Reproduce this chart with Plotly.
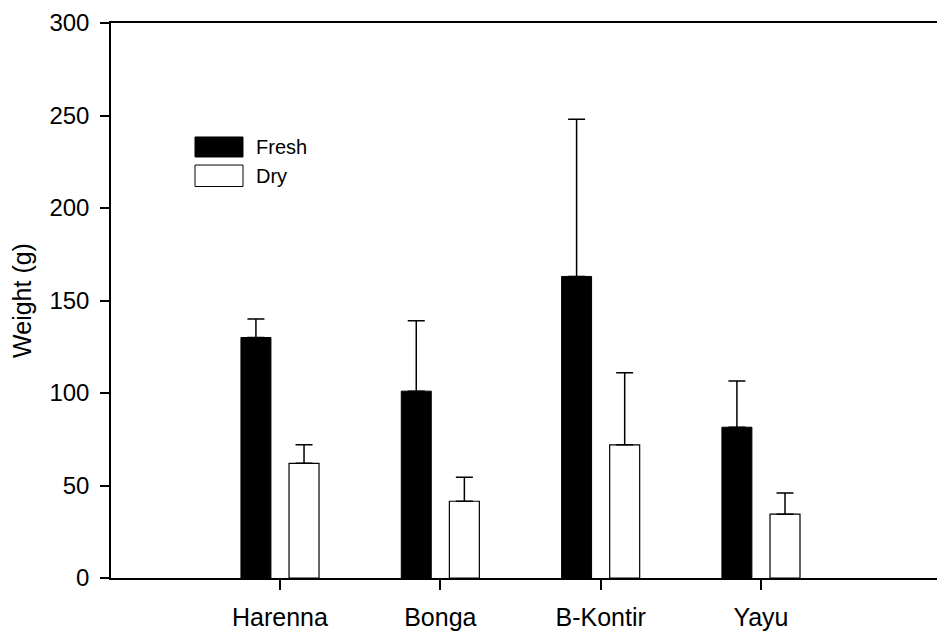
import plotly.graph_objects as go

sites = ["Harenna", "Bonga", "B-Kontir", "Yayu"]
fresh = [130, 101, 163, 81.5]
fresh_err = [10, 38, 85, 25]
dry = [62, 41.5, 72, 34.5]
dry_err = [10, 13, 39, 11.5]
y_ticks = [0, 50, 100, 150, 200, 250, 300]

pos = list(range(len(sites)))
FONT = "Liberation Sans, Arial, sans-serif"

fig = go.Figure()
fig.add_trace(go.Bar(
    x=pos, y=fresh, name="Fresh", width=0.187, offset=-0.2435,
    marker=dict(color="black", line=dict(color="black", width=1)),
    error_y=dict(type="data", array=fresh_err, arrayminus=[0]*4, symmetric=False,
                 color="black", thickness=1.5, width=8.5),
))
fig.add_trace(go.Bar(
    x=pos, y=dry, name="Dry", width=0.187, offset=0.0565,
    marker=dict(color="white", line=dict(color="black", width=1.2)),
    error_y=dict(type="data", array=dry_err, arrayminus=[0]*4, symmetric=False,
                 color="black", thickness=1.5, width=8.5),
))

# legend drawn as boxes + text
fig.add_shape(type="rect", xref="paper", yref="paper", x0=0.1017, x1=0.1598, y0=0.7586, y1=0.7946,
              fillcolor="black", line=dict(color="black", width=1))
fig.add_shape(type="rect", xref="paper", yref="paper", x0=0.1017, x1=0.1598, y0=0.7054, y1=0.7441,
              fillcolor="white", line=dict(color="black", width=1))
fig.add_annotation(x=0.173, y=0.7766, xref="paper", yref="paper", text="Fresh", showarrow=False,
                   xanchor="left", yanchor="middle", font=dict(size=20, color="black", family=FONT))
fig.add_annotation(x=0.173, y=0.7243, xref="paper", yref="paper", text="Dry", showarrow=False,
                   xanchor="left", yanchor="middle", font=dict(size=20, color="black", family=FONT))

fig.update_layout(
    width=939, height=624,
    margin=dict(l=103, r=10, t=15, b=54),
    plot_bgcolor="white", paper_bgcolor="white",
    showlegend=False,
    font=dict(family=FONT, color="black"),
)
fig.update_xaxes(
    range=[-1.054, 4.098], tickmode="array", tickvals=pos, ticktext=sites,
    showline=True, linecolor="black", linewidth=1.5, mirror=True,
    ticks="outside", ticklen=10, tickwidth=1.5, tickcolor="black",
    showgrid=False, zeroline=False, tickfont=dict(size=25, family=FONT),
    ticklabelstandoff=6, automargin=False,
)
fig.update_yaxes(
    range=[0, 300], tickmode="array", tickvals=y_ticks,
    showline=True, linecolor="black", linewidth=1.5,
    ticks="outside", ticklen=9, tickwidth=1.5, tickcolor="black",
    showgrid=False, zeroline=False, tickfont=dict(size=24, family=FONT),
    ticklabelstandoff=6, automargin=False,
    title=dict(text="Weight (g)", font=dict(size=25, family=FONT), standoff=12),
)

fig.write_html("out.html")
